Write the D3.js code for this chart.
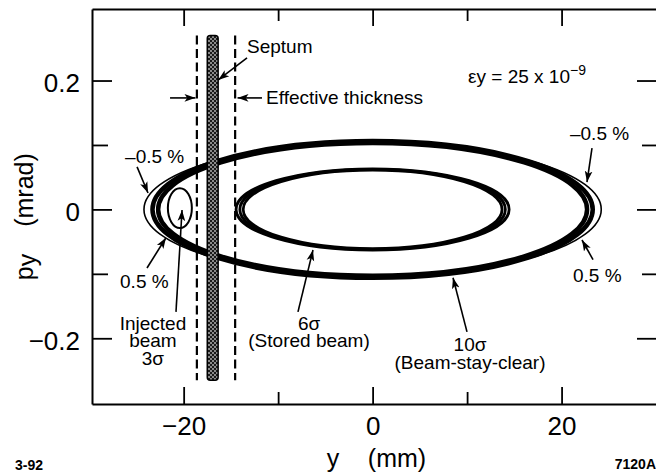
<!DOCTYPE html>
<html>
<head>
<meta charset="utf-8">
<script src="https://cdn.jsdelivr.net/npm/d3@7"></script>
<style>
  body { margin: 0; background: #fff; }
  svg text { font-family: "Liberation Sans", Arial, Helvetica, sans-serif; fill: #000; }
</style>
</head>
<body>
<div id="chart"></div>
<script>
// axis ticks
var xMajor = [-20, 0, 20];
var xMinor = [-10, 10];
var yMajor = [-0.2, 0, 0.2];
var yMinor = [-0.1, 0.1];

// 10 sigma beam-stay-clear ellipses, dp = -0.5 %, 0, +0.5 %  (semi axes, mm / mrad)
var bscA = [24.2, 23.3, 22.7];
var bscB = [0.104, 0.106, 0.103];
// 6 sigma stored beam ellipses
var storedA = [14.45, 14.05, 13.7];
var storedB = [0.063, 0.062, 0.061];
// 3 sigma injected beam (centre, semi axes)
var injCentre = [-20.4, 0.002];
var injSemi = [1.27, 0.031];

// septum and effective thickness (mm), vertical extent (mrad)
var septumEdges = [-17.5, -16.35];
var effEdges = [-18.6, -14.55];
var septumSpan = [-0.265, 0.27];

// annotation arrows [x1, y1, x2, y2] in data units, head at x2,y2
var arrows = [
  [-13.29, 0.235, -16.34, 0.201],
  [-21.44, 0.173, -18.75, 0.173],
  [-11.71, 0.173, -14.3, 0.173],
  [23.22, 0.095, 22.69, 0.0425],
  [23.33, -0.078, 22.16, -0.0475],
  [-24.93, 0.066, -23.77, 0.0255],
  [-23.88, -0.091, -21.87, -0.044],
  [-20.81, -0.159, -20.17, -0.001],
  [-7.90, -0.159, -6.31, -0.063],
  [9.99, -0.190, 8.51, -0.106]
];

// annotation texts: lines, x, y (data units), anchor
var notes = [
  {lines: ["Septum"], x: -13.29, y: 0.243, anchor: "start"},
  {lines: ["Effective thickness"], x: -11.28, y: 0.164, anchor: "start"},
  {lines: ["\u20130.5 %"], x: 20.89, y: 0.108, anchor: "start"},
  {lines: ["0.5 %"], x: 21.21, y: -0.113, anchor: "start"},
  {lines: ["\u20130.5 %"], x: -26.2, y: 0.072, anchor: "start"},
  {lines: ["0.5 %"], x: -26.73, y: -0.122, anchor: "start"},
  {lines: ["Injected", "beam", "3\u03c3"], x: -23.25, y: -0.187, anchor: "middle"},
  {lines: ["6\u03c3", "(Stored beam)"], x: -6.73, y: -0.187, anchor: "middle"},
  {lines: ["10\u03c3", "(Beam-stay-clear)"], x: 10.31, y: -0.22, anchor: "middle"}
];

var W = 656, H = 474;
var frameL = 92, frameR = 657, frameT = 9, frameB = 404;

var svg = d3.select("#chart").append("svg")
    .attr("width", W)
    .attr("height", H);

var defs = svg.append("defs");
var pat = defs.append("pattern")
    .attr("id", "hatch")
    .attr("width", 4).attr("height", 4)
    .attr("patternUnits", "userSpaceOnUse");
pat.append("rect").attr("width", 4).attr("height", 4).attr("fill", "#1a1a1a");
pat.append("rect").attr("x", 0.3).attr("y", 0.3).attr("width", 1.4).attr("height", 1.4).attr("fill", "#fff");
pat.append("rect").attr("x", 2.3).attr("y", 2.3).attr("width", 1.4).attr("height", 1.4).attr("fill", "#fff");

var marker = defs.append("marker")
    .attr("id", "head")
    .attr("viewBox", "0 0 10 10")
    .attr("refX", 10).attr("refY", 5)
    .attr("markerWidth", 11).attr("markerHeight", 11)
    .attr("markerUnits", "userSpaceOnUse")
    .attr("orient", "auto");
marker.append("path").attr("d", "M0,1.5 L10,5 L0,8.5 L2.5,5 Z").attr("fill", "#000");

var x = d3.scaleLinear().domain([-29.7, 30.1]).range([frameL, frameR]);
var y = d3.scaleLinear().domain([-0.302, 0.311]).range([frameB, frameT]);

// ---- frame and ticks ----
function drawAxis(axis, transform, hideDomain, labels) {
  var g = svg.append("g").attr("transform", transform).call(axis);
  g.selectAll("line").attr("stroke", "#000").attr("stroke-width", 1.8);
  g.select(".domain").attr("stroke", "#000").attr("stroke-width", 2);
  if (hideDomain) g.select(".domain").remove();
  if (!labels) g.selectAll("text").remove();
  else g.selectAll("text").attr("font-size", 26).attr("font-family", "Liberation Sans, Arial, sans-serif");
  return g;
}

var fmt = function(d) { return d === 0 ? "0" : d3.format("")(d).replace("-", "\u2013"); };

drawAxis(d3.axisBottom(x).tickValues(xMajor).tickSizeInner(-17).tickSizeOuter(0).tickPadding(13).tickFormat(fmt),
    "translate(0," + frameB + ")", false, true);
drawAxis(d3.axisBottom(x).tickValues(xMinor).tickSizeInner(-12).tickSizeOuter(0), "translate(0," + frameB + ")", true, false);
drawAxis(d3.axisTop(x).tickValues(xMajor).tickSizeInner(-17).tickSizeOuter(0), "translate(0," + frameT + ")", false, false);
drawAxis(d3.axisTop(x).tickValues(xMinor).tickSizeInner(-12).tickSizeOuter(0), "translate(0," + frameT + ")", true, false);

var gl = drawAxis(d3.axisLeft(y).tickValues(yMajor).tickSizeInner(-20).tickSizeOuter(0).tickPadding(12).tickFormat(fmt),
    "translate(" + frameL + ",0)", false, true);
gl.selectAll("text").attr("dy", "0.44em");
drawAxis(d3.axisLeft(y).tickValues(yMinor).tickSizeInner(-16).tickSizeOuter(0), "translate(" + frameL + ",0)", true, false);
drawAxis(d3.axisRight(y).tickValues(yMajor).tickSizeInner(-20).tickSizeOuter(0), "translate(" + frameR + ",0)", false, false);
drawAxis(d3.axisRight(y).tickValues(yMinor).tickSizeInner(-15).tickSizeOuter(0), "translate(" + frameR + ",0)", true, false);

// ---- ellipses ----
var plot = svg.append("g");

plot.selectAll("ellipse.bsc")
  .data(bscA)
  .enter().append("ellipse")
    .attr("class", "bsc")
    .attr("cx", x(0))
    .attr("cy", y(0))
    .attr("rx", function(d) { return x(d) - x(0); })
    .attr("ry", function(d, i) { return y(0) - y(bscB[i]); })
    .attr("fill", "none")
    .attr("stroke", "#000")
    .attr("stroke-width", function(d, i) { return i == 0 ? 1.6 : 4.5; });

plot.selectAll("ellipse.stored")
  .data(storedA)
  .enter().append("ellipse")
    .attr("class", "stored")
    .attr("cx", x(0))
    .attr("cy", y(0))
    .attr("rx", function(d) { return x(d) - x(0); })
    .attr("ry", function(d, i) { return y(0) - y(storedB[i]); })
    .attr("fill", "none")
    .attr("stroke", "#000")
    .attr("stroke-width", 2.8);

plot.append("ellipse")
    .attr("cx", x(injCentre[0]))
    .attr("cy", y(injCentre[1]))
    .attr("rx", x(injSemi[0]) - x(0))
    .attr("ry", y(0) - y(injSemi[1]))
    .attr("fill", "none")
    .attr("stroke", "#000")
    .attr("stroke-width", 2);

// ---- septum ----
plot.selectAll("line.eff")
  .data(effEdges)
  .enter().append("line")
    .attr("class", "eff")
    .attr("x1", function(d) { return x(d); })
    .attr("x2", function(d) { return x(d); })
    .attr("y1", y(septumSpan[1]))
    .attr("y2", y(septumSpan[0]))
    .attr("stroke", "#000")
    .attr("stroke-width", 2.2)
    .attr("stroke-dasharray", "9,4.5");

plot.append("rect")
    .attr("x", x(septumEdges[0]))
    .attr("y", y(septumSpan[1]))
    .attr("width", x(septumEdges[1]) - x(septumEdges[0]))
    .attr("height", y(septumSpan[0]) - y(septumSpan[1]))
    .attr("rx", 3)
    .attr("fill", "url(#hatch)")
    .attr("stroke", "#000")
    .attr("stroke-width", 1.5);

// ---- annotations ----
plot.selectAll("line.arrow")
  .data(arrows)
  .enter().append("line")
    .attr("class", "arrow")
    .attr("x1", function(d) { return x(d[0]); })
    .attr("y1", function(d) { return y(d[1]); })
    .attr("x2", function(d) { return x(d[2]); })
    .attr("y2", function(d) { return y(d[3]); })
    .attr("stroke", "#000")
    .attr("stroke-width", 1.6)
    .attr("marker-end", "url(#head)");

var noteG = plot.selectAll("text.note")
  .data(notes)
  .enter().append("text")
    .attr("class", "note")
    .attr("x", function(d) { return x(d.x); })
    .attr("y", function(d) { return y(d.y); })
    .attr("text-anchor", function(d) { return d.anchor; })
    .attr("font-size", 19);

noteG.selectAll("tspan")
  .data(function(d) { return d.lines.map(function(l) { return {t: l, x: x(d.x)}; }); })
  .enter().append("tspan")
    .attr("x", function(d) { return d.x; })
    .attr("dy", function(d, i) { return i == 0 ? 0 : 17.5; })
    .text(function(d) { return d.t; });

// emittance label
var eps = plot.append("text")
    .attr("x", x(10.1))
    .attr("y", y(0.196))
    .attr("font-size", 19);
eps.append("tspan").text("\u03b5y = 25 x 10");
eps.append("tspan").attr("dy", -8).attr("font-size", 14).text("\u22129");

// ---- axis titles ----
svg.append("text")
    .attr("transform", "translate(33,190) rotate(-90)")
    .attr("text-anchor", "middle")
    .attr("font-size", 25)
    .text("(mrad)");

var py = svg.append("text")
    .attr("transform", "translate(33,267) rotate(-90)")
    .attr("text-anchor", "middle")
    .attr("font-size", 25);
py.append("tspan").text("p");
py.append("tspan").attr("dy", 3).text("y");

svg.append("text")
    .attr("x", 333).attr("y", 467)
    .attr("text-anchor", "middle")
    .attr("font-size", 25)
    .text("y");
svg.append("text")
    .attr("x", 397).attr("y", 467)
    .attr("text-anchor", "middle")
    .attr("font-size", 25)
    .text("(mm)");

svg.append("text")
    .attr("x", 15).attr("y", 470)
    .attr("font-size", 14)
    .attr("font-weight", "bold")
    .text("3-92");
svg.append("text")
    .attr("x", 656).attr("y", 469)
    .attr("text-anchor", "end")
    .attr("font-size", 14)
    .attr("font-weight", "bold")
    .text("7120A");
</script>
</body>
</html>
